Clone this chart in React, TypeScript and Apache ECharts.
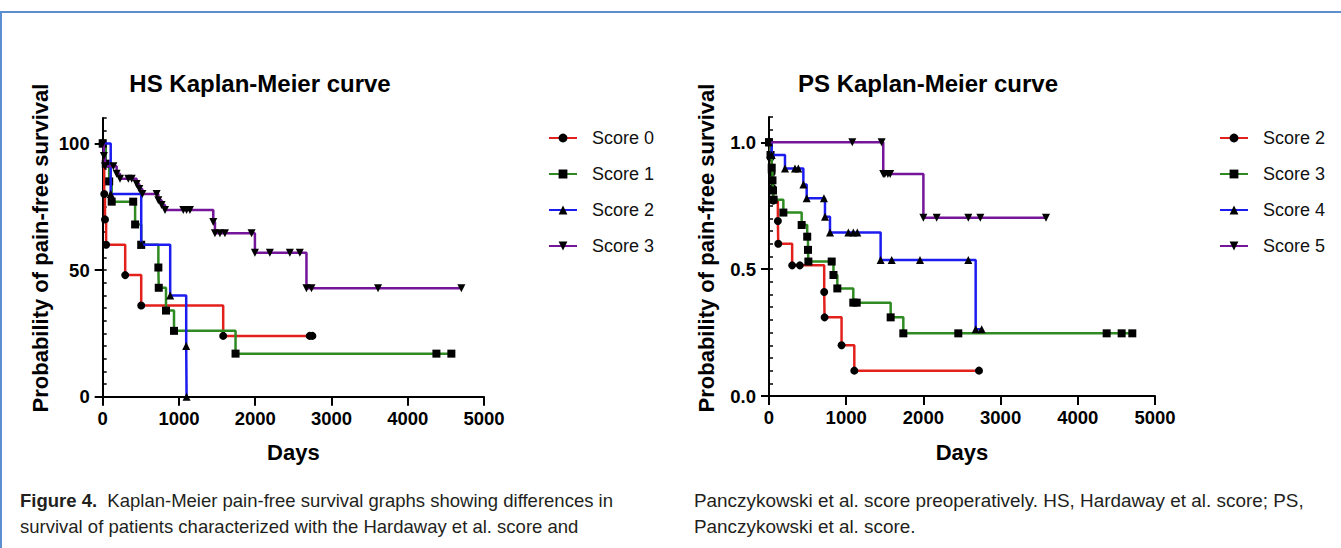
import React, { useEffect, useRef } from "react";
import * as echarts from "echarts";

// ---------- data (days, survival) ----------
const hsNames = ["Score 0", "Score 1", "Score 2", "Score 3"];
const psNames = ["Score 2", "Score 3", "Score 4", "Score 5"];

const hsScore0 = [[0, 100], [20, 80], [30, 70], [45, 60], [295, 48], [505, 36], [1580, 24], [2715, 24], [2750, 24]];
const hsScore1 = [[0, 100], [40, 92], [85, 85], [118, 77], [400, 77], [425, 68], [505, 60], [730, 51], [735, 43], [830, 34], [935, 26], [1742, 17], [4376, 17], [4572, 17]];
const hsScore2 = [[0, 100], [105, 80], [505, 60], [885, 40], [1095, 20], [1100, 0]];
const hsScore3 = [[0, 100], [15, 95], [30, 91], [140, 91], [183, 88], [227, 86], [336, 86], [380, 86], [445, 84], [480, 82], [520, 80], [707, 80], [729, 77.6], [773, 75.7], [817, 73.7], [1057, 73.7], [1100, 73.7], [1144, 73.7], [1450, 69], [1472, 64.5], [1537, 64.5], [1603, 64.5], [1952, 64.5], [1996, 56.8], [2192, 56.8], [2454, 56.8], [2585, 56.8], [2672, 42.8], [2738, 42.8], [3611, 42.8], [4703, 42.8]];

const psScore2 = [[0, 1], [20, 0.94], [35, 0.88], [45, 0.82], [55, 0.77], [115, 0.69], [120, 0.6], [300, 0.515], [400, 0.515], [715, 0.41], [720, 0.31], [940, 0.2], [1105, 0.1], [2720, 0.1]];
const psScore3 = [[0, 1], [20, 0.95], [35, 0.9], [45, 0.85], [52, 0.81], [60, 0.774], [186, 0.723], [423, 0.674], [495, 0.628], [505, 0.576], [510, 0.53], [812, 0.53], [835, 0.477], [885, 0.424], [1092, 0.368], [1136, 0.368], [1576, 0.31], [1740, 0.247], [2452, 0.247], [4374, 0.247], [4568, 0.247], [4706, 0.247]];
const psScore4 = [[0, 1], [35, 0.95], [207, 0.897], [337, 0.897], [380, 0.897], [445, 0.834], [488, 0.779], [712, 0.779], [725, 0.707], [790, 0.644], [1028, 0.644], [1092, 0.644], [1144, 0.644], [1446, 0.536], [1589, 0.536], [1956, 0.536], [2582, 0.536], [2677, 0.263], [2755, 0.263]];
const psScore5 = [[0, 1], [1079, 1], [1459, 1], [1480, 0.875], [1500, 0.875], [1540, 0.875], [1570, 0.875], [2000, 0.703], [2172, 0.703], [2582, 0.703], [2737, 0.703], [3588, 0.703]];

const dayTicks = [0, 1000, 2000, 3000, 4000, 5000];
const hsYLabels = [0, 50, 100];
const psYLabels = [0, 0.5, 1.0];

const captionLeft = [
  "Kaplan-Meier pain-free survival graphs showing differences in",
  "survival of patients characterized with the Hardaway et al. score and",
];
const captionRight = [
  "Panczykowski et al. score preoperatively. HS, Hardaway et al. score; PS,",
  "Panczykowski et al. score.",
];

const colors = ["#e3211c", "#2f8a22", "#1c1cf0", "#74159a"];
const symbols = ["circle", "rect", "triangle", "path://M0,0 L10,0 L5,9 Z"];
const FONT = "'Liberation Sans', Arial, Helvetica, sans-serif";

function makeOption(cfg: any) {
  const series = cfg.data.map((d: number[][], i: number) => ({
    type: "line",
    name: cfg.names[i],
    data: d,
    step: "end",
    symbol: symbols[i],
    symbolSize: 8,
    showAllSymbol: true,
    lineStyle: { color: colors[i], width: 2.5 },
    itemStyle: { color: "#000" },
    emphasis: { disabled: true },
    z: 2 + i,
  }));
  const gridH = cfg.unit * cfg.yMax;
  return {
    animation: false,
    textStyle: { fontFamily: FONT },
    grid: { left: cfg.gridLeft, top: cfg.y0 - gridH, width: cfg.gridW, height: gridH },
    xAxis: {
      type: "value",
      min: 0,
      max: 5000,
      interval: 1000,
      axisLine: { show: true, lineStyle: { color: "#000", width: 2 } },
      axisTick: { show: true, length: 9, lineStyle: { color: "#000", width: 2 }, customValues: dayTicks },
      axisLabel: {
        show: true,
        margin: 12,
        fontSize: 18.5,
        fontWeight: "bold",
        color: "#000",
        fontFamily: FONT,
        customValues: dayTicks,
        formatter: (v: number) => String(v),
      },
      splitLine: { show: false },
    },
    yAxis: [
      {
        type: "value",
        min: 0,
        max: cfg.yMax,
        interval: cfg.major,
        axisLine: { show: true, onZero: false, lineStyle: { color: "#000", width: 2 } },
        axisTick: { show: true, length: 8, lineStyle: { color: "#000", width: 2 }, customValues: cfg.yLabels },
        axisLabel: {
          show: true,
          margin: 13,
          fontSize: 18.5,
          fontWeight: "bold",
          color: "#000",
          fontFamily: FONT,
          customValues: cfg.yLabels,
          formatter: cfg.fmt,
        },
        splitLine: { show: false },
      },
      {
        type: "value",
        min: 0,
        max: cfg.yMax,
        interval: cfg.minor,
        axisLine: { show: false },
        axisTick: { show: true, length: 4, lineStyle: { color: "#000", width: 1.5 } },
        axisLabel: { show: false },
        splitLine: { show: false },
      },
    ],
    legend: {
      orient: "vertical",
      left: cfg.legendLeft,
      top: 124,
      itemWidth: 28,
      itemHeight: 11,
      itemGap: 18,
      data: cfg.names,
      selectedMode: false,
      textStyle: { fontSize: 18, color: "#111", fontFamily: FONT, padding: [0, 0, 0, 10] },
    },
    title: {
      text: cfg.title,
      left: cfg.titleX,
      top: 66,
      textAlign: "center",
      textStyle: { fontSize: 24, fontWeight: "bold", color: "#000", fontFamily: FONT },
    },
    graphic: [
      {
        type: "text",
        x: cfg.yTitleX,
        y: 248,
        rotation: Math.PI / 2,
        style: {
          text: "Probability of pain-free survival",
          fontSize: 22,
          fontWeight: "bold",
          fill: "#000",
          fontFamily: FONT,
          align: "center",
          verticalAlign: "middle",
        },
      },
      {
        type: "text",
        x: cfg.gridLeft + cfg.gridW / 2,
        y: 452,
        style: {
          text: "Days",
          fontSize: 22,
          fontWeight: "bold",
          fill: "#000",
          fontFamily: FONT,
          align: "center",
          verticalAlign: "middle",
        },
      },
      ...cfg.caption.map((line: string, i: number) => ({
        type: "text",
        x: cfg.capX,
        y: 500 + i * 26,
        style: {
          text: i === 0 && cfg.figLabel ? "{b|Figure 4.}  " + line : line,
          fontSize: cfg.capSize,
          fill: "#231f20",
          fontFamily: FONT,
          align: "left",
          verticalAlign: "middle",
          rich: { b: { fontSize: cfg.capSize, fontWeight: "bold", fill: "#231f20", fontFamily: FONT } },
        },
      })),
    ],
    series,
  };
}

function Chart({ option, style }: { option: any; style: React.CSSProperties }) {
  const ref = useRef<HTMLDivElement>(null);
  useEffect(() => {
    if (!ref.current) return;
    const chart = echarts.init(ref.current, undefined, { renderer: "svg" });
    chart.setOption(option);
    return () => chart.dispose();
  }, [option]);
  return <div ref={ref} style={style} />;
}

const leftOption = makeOption({
  names: hsNames,
  data: [hsScore0, hsScore1, hsScore2, hsScore3],
  gridLeft: 102.7,
  gridW: 381.3,
  y0: 396.7,
  unit: 2.533,
  yMax: 110,
  major: 50,
  minor: 5,
  yLabels: hsYLabels,
  fmt: (v: number) => String(v),
  legendLeft: 543,
  title: "HS Kaplan-Meier curve",
  titleX: 255,
  yTitleX: 40,
  caption: captionLeft,
  capX: 20,
  capSize: 18.5,
  figLabel: true,
});

const rightOption = makeOption({
  names: psNames,
  data: [psScore2, psScore3, psScore4, psScore5],
  gridLeft: 99,
  gridW: 386,
  y0: 396,
  unit: 253.7,
  yMax: 1.1,
  major: 0.5,
  minor: 0.05,
  yLabels: psYLabels,
  fmt: (v: number) => v.toFixed(1),
  legendLeft: 544,
  title: "PS Kaplan-Meier curve",
  titleX: 923 - 670,
  yTitleX: 706 - 670,
  caption: captionRight,
  capX: 24,
  capSize: 18.9,
  figLabel: false,
});

export default function App() {
  return (
    <div style={{ position: "fixed", left: 0, top: 0, width: 1341, height: 548, background: "#fff", overflow: "hidden" }}>
      <div
        style={{
          position: "absolute",
          left: 0,
          top: 11,
          width: 1341,
          height: 537,
          borderTop: "2px solid #5b8fd0",
          borderLeft: "2px solid #5b8fd0",
          boxSizing: "border-box",
        }}
      />
      <Chart option={leftOption} style={{ position: "absolute", left: 0, top: 0, width: 670, height: 548 }} />
      <Chart option={rightOption} style={{ position: "absolute", left: 670, top: 0, width: 671, height: 548 }} />
    </div>
  );
}
